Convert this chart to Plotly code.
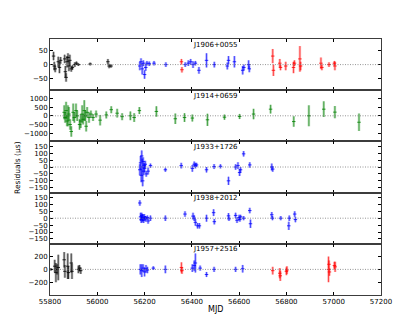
import plotly.graph_objects as go
from plotly.subplots import make_subplots

pulsars = ["J1906+0055", "J1914+0659", "J1933+1726", "J1938+2012", "J1957+2516"]
y_ranges = [(-90, 90), (-1470, 1470), (-185, 185), (-185, 185), (-400, 400)]
y_ticks = [[-50, 0, 50], [-1000, -500, 0, 500, 1000],
           [-150, -100, -50, 0, 50, 100, 150], [-150, -100, -50, 0, 50, 100, 150],
           [-200, 0, 200]]
x_ticks = [55800, 56000, 56200, 56400, 56600, 56800, 57000, 57200]

# ---- J1906+0055 ----
j1906_black_mjd = [55815, 55818, 55822, 55835, 55840, 55845, 55862, 55865, 55868, 55872, 55876,
                   55880, 55884, 55890, 55895, 55905, 55912, 55920, 55970, 56045, 56050, 56058]
j1906_black_res = [30, -5, -15, 10, -10, 15, 20, -25, -45, 10, 25, -5, 15, -15, -10, 0, 5, 0, 2, 10, -5, -5]
j1906_black_err = [15, 15, 12, 18, 20, 12, 15, 20, 15, 20, 15, 18, 20, 10, 8, 8, 6, 5, 5, 10, 8, 6]
j1906_blue_mjd = [56180, 56185, 56190, 56195, 56200, 56205, 56210, 56220, 56240, 56290,
                  56372, 56385, 56395, 56405, 56415, 56430, 56462, 56495, 56550, 56555,
                  56580, 56615, 56620, 56640, 56643]
j1906_blue_res = [-5, 10, -15, 5, -35, -10, 5, 3, 5, 0, 0, 5, 10, 0, 5, -20, 15, 0, -5, 15,
                  10, -20, -10, 0, -15]
j1906_blue_err = [15, 12, 20, 10, 15, 12, 8, 8, 8, 8, 8, 10, 10, 12, 8, 12, 25, 10, 12, 15,
                  20, 15, 10, 15, 12]
j1906_red_mjd = [56356, 56358, 56742, 56745, 56772, 56775, 56797, 56830, 56834, 56857, 56860,
                 56946, 56950, 56980, 57003, 57005]
j1906_red_res = [10, -18, 30, -20, 5, -10, -5, -10, 5, 20, -5, 5, -10, 0, 5, -5]
j1906_red_err = [10, 10, 25, 20, 15, 10, 15, 20, 10, 45, 15, 20, 10, 8, 8, 15]

# ---- J1914+0659 ----
j1914_green_mjd = [55860, 55864, 55868, 55872, 55876, 55880, 55885, 55890, 55898, 55903, 55910,
                   55915, 55925, 55930, 55936, 55940, 55945, 55950, 55953, 55957, 55965, 55973,
                   55982, 55995, 56012, 56038, 56059, 56084, 56105, 56140, 56156, 56178,
                   56250, 56330, 56369, 56402, 56466, 56538, 56602, 56661, 56733, 56831,
                   56895, 56958, 57005, 57107]
j1914_green_res = [200, -100, 300, -300, 0, 100, -500, -900, 200, -100, 300, 0, -500, -300, 100,
                   -200, 300, 0, -600, 200, -100, 100, -100, 100, -250, 50, 350, 150, -50, 0,
                   -100, 300, 250, -170, -100, -130, -230, -80, -40, 100, 380, -330, 0, 380,
                   210, -370]
j1914_green_err = [400, 300, 500, 300, 600, 400, 300, 300, 500, 300, 400, 300, 300, 400, 500,
                   300, 600, 300, 300, 300, 300, 200, 200, 200, 300, 200, 200, 250, 200, 250,
                   250, 200, 300, 300, 250, 200, 350, 150, 150, 300, 250, 300, 600, 450,
                   350, 500]

# ---- J1933+1726 ----
j1933_blue_mjd = [56180, 56183, 56186, 56188, 56190, 56192, 56194, 56196, 56198, 56200, 56203,
                  56207, 56215, 56225, 56288, 56355, 56402, 56410, 56415, 56420, 56462,
                  56494, 56521, 56555, 56585, 56595, 56602, 56606, 56619, 56645, 56738, 56742]
j1933_blue_res = [-20, 30, -60, 80, 0, -100, 40, -30, 10, -10, 20, -50, -30, 10, -20, 10, -10,
                  20, 10, 15, -20, 3, 5, -100, 0, 10, -40, -20, 95, 15, 0, -15]
j1933_blue_err = [40, 50, 50, 40, 60, 40, 30, 30, 20, 30, 25, 20, 25, 15, 15, 20, 25, 20, 20,
                  15, 20, 18, 15, 30, 20, 25, 25, 20, 20, 20, 25, 20]

# ---- J1938+2012 ----
j1938_blue_mjd = [56180, 56183, 56186, 56188, 56190, 56193, 56196, 56199, 56202, 56205, 56212,
                  56215, 56225, 56288, 56371, 56405, 56410, 56415, 56424, 56432, 56462,
                  56492, 56495, 56555, 56557, 56585, 56591, 56600, 56603, 56606, 56619,
                  56645, 56648, 56738, 56741, 56776, 56810, 56812, 56835, 56838]
j1938_blue_res = [110, 10, -10, 20, 0, 5, -15, 10, 0, -5, 5, -20, 0, 0, 30, 15, 0, -30, -55,
                  -55, 0, 40, -25, 17, -5, 20, -15, 5, -10, 10, 0, 55, -40, 25, 0, 0, -55, 0,
                  30, -10]
j1938_blue_err = [20, 30, 25, 20, 30, 25, 20, 20, 15, 20, 15, 20, 20, 20, 20, 25, 20, 25, 20,
                  20, 25, 25, 20, 20, 15, 20, 20, 20, 15, 15, 15, 20, 30, 20, 15, 15, 30, 20,
                  20, 20]

# ---- J1957+2516 ----
j1957_black_mjd = [55804, 55820, 55825, 55830, 55835, 55860, 55863, 55875, 55878, 55890, 55893,
                   55920, 55925, 55930]
j1957_black_res = [0, 50, -50, 0, 30, 150, -30, 50, -50, 100, -30, 0, 20, -20]
j1957_black_err = [20, 100, 150, 80, 200, 120, 100, 200, 100, 150, 120, 60, 50, 50]
j1957_blue_mjd = [56182, 56188, 56194, 56200, 56206, 56212, 56237, 56288, 56402, 56410, 56415,
                  56435, 56462, 56494, 56585, 56615]
j1957_blue_res = [0, -20, 20, -40, 10, -10, 20, 0, 20, 60, 100, 20, -80, 0, 0, 10]
j1957_blue_err = [80, 100, 60, 70, 60, 50, 30, 60, 60, 80, 150, 40, 40, 40, 40, 60]
j1957_red_mjd = [56356, 56358, 56742, 56772, 56774, 56800, 56802, 56978, 56980, 56982, 57003, 57006]
j1957_red_res = [30, -20, -20, -60, -100, -30, -10, 0, 80, -40, 60, 40]
j1957_red_err = [80, 50, 60, 80, 80, 60, 60, 200, 60, 60, 60, 80]

panels = [
    [("black", j1906_black_mjd, j1906_black_res, j1906_black_err),
     ("blue", j1906_blue_mjd, j1906_blue_res, j1906_blue_err),
     ("red", j1906_red_mjd, j1906_red_res, j1906_red_err)],
    [("green", j1914_green_mjd, j1914_green_res, j1914_green_err)],
    [("blue", j1933_blue_mjd, j1933_blue_res, j1933_blue_err)],
    [("blue", j1938_blue_mjd, j1938_blue_res, j1938_blue_err)],
    [("black", j1957_black_mjd, j1957_black_res, j1957_black_err),
     ("blue", j1957_blue_mjd, j1957_blue_res, j1957_blue_err),
     ("red", j1957_red_mjd, j1957_red_res, j1957_red_err)],
]

colors = {
    "black": ("rgba(0,0,0,0.3)", "rgb(0,0,0)"),
    "blue": ("rgba(0,0,255,0.3)", "rgb(0,0,255)"),
    "red": ("rgba(255,0,0,0.3)", "rgb(255,0,0)"),
    "green": ("rgba(0,128,0,0.3)", "rgb(0,128,0)"),
}

font = "DejaVu Sans"
fig = make_subplots(rows=5, cols=1, shared_xaxes=True, vertical_spacing=0)

for i, series in enumerate(panels):
    row = i + 1
    for cname, mjd, res, err in series:
        light, dark = colors[cname]
        fig.add_trace(go.Scatter(
            x=mjd, y=res, mode="markers",
            marker=dict(size=1, color=dark, opacity=0),
            error_y=dict(type="data", array=err, visible=True, color=light,
                         thickness=2.5, width=0),
            showlegend=False, hoverinfo="skip"), row=row, col=1)
        fig.add_trace(go.Scatter(
            x=mjd, y=res, mode="markers",
            marker=dict(symbol="line-ew", size=2.5, color=dark,
                        line=dict(width=0.8, color=dark)),
            error_y=dict(type="data", array=err, visible=True, color=dark,
                         thickness=0.6, width=0),
            showlegend=False, hoverinfo="skip"), row=row, col=1)
    xd = "x domain" if row == 1 else f"x{row} domain"
    yr = "y" if row == 1 else f"y{row}"
    yd = "y domain" if row == 1 else f"y{row} domain"
    fig.add_shape(type="line", xref=xd, yref=yr, x0=0, x1=1, y0=0, y1=0,
                  line=dict(color="rgb(120,120,120)", width=0.8, dash="1px,1.5px"))
    fig.add_annotation(text=pulsars[i], xref=xd, yref=yd,
                       x=0.43, y=0.99, xanchor="left", yanchor="top", showarrow=False,
                       borderpad=0,
                       font=dict(family=font, size=7, color="black"))
    fig.update_yaxes(range=list(y_ranges[i]), tickvals=y_ticks[i],
                     ticks="inside", ticklen=3, tickcolor="black", tickwidth=0.8,
                     showline=True, linecolor="rgb(60,60,60)", linewidth=0.8, mirror="ticks",
                     showgrid=False, zeroline=False,
                     tickfont=dict(family=font, size=7, color="black"),
                     row=row, col=1)
    fig.update_xaxes(range=[55800, 57200], tickvals=x_ticks, tickformat="d",
                     ticks="inside", ticklen=3, tickcolor="black", tickwidth=0.8,
                     showline=True, linecolor="rgb(60,60,60)", linewidth=0.8, mirror="ticks",
                     showgrid=False, zeroline=False, showticklabels=(row == 5),
                     tickfont=dict(family=font, size=7, color="black"),
                     row=row, col=1)

fig.add_annotation(text="MJD", xref="paper", yref="paper", x=0.5, y=-0.055,
                   showarrow=False, xanchor="center", yanchor="middle",
                   font=dict(family=font, size=8, color="black"))
fig.add_annotation(text="Residuals (\u03bcs)", xref="paper", yref="paper", x=-0.10, y=0.5,
                   textangle=-90, showarrow=False, xanchor="center", yanchor="middle",
                   font=dict(family=font, size=7.5, color="black"))

fig.update_layout(width=415, height=319, margin=dict(l=42, r=42, t=31, b=32),
                  paper_bgcolor="white", plot_bgcolor="white",
                  font=dict(family=font, size=7, color="black"))

fig.write_html("out.html")
